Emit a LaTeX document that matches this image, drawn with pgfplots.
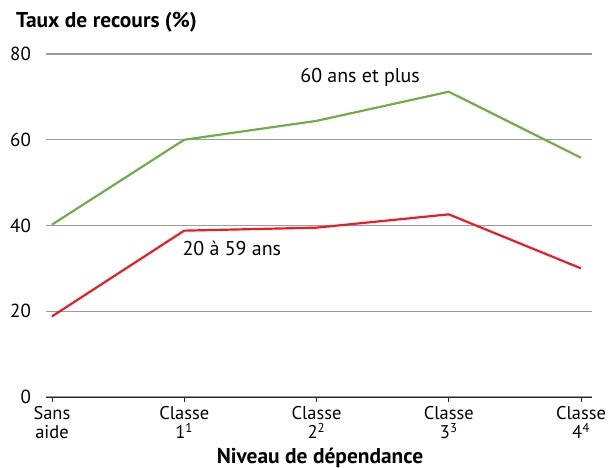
\documentclass[border=0pt]{standalone}
\usepackage{pgfplots}
\pgfplotsset{compat=1.18}
\usepackage{fontspec}
\setmainfont{PT Sans}
\definecolor{mygreen}{RGB}{112,173,71}
\definecolor{myred}{RGB}{237,28,36}
\definecolor{mygrid}{RGB}{155,155,155}
\begin{document}
\fontsize{18}{20}\selectfont
\begin{tikzpicture}
\begin{axis}[
  scale only axis, width=546bp, height=343bp,
  at={(0,0)}, anchor=south west,
  xmin=-0.045, xmax=4.083, ymin=0, ymax=80,
  axis x line*=bottom, axis y line*=left,
  y axis line style={draw=none},
  x axis line style={black!85, line width=0.9pt},
  ytick={0,20,40,60,80},
  ytick style={draw=none},
  ymajorgrids, grid style={mygrid, line width=1.3pt},
  xtick={0,1,2,3,4},
  xticklabels={{Sans\\aide},{Classe\\1\textsuperscript{1}},{Classe\\2\textsuperscript{2}},{Classe\\3\textsuperscript{3}},{Classe\\4\textsuperscript{4}}},
  xticklabel style={align=center, font=\fontsize{18.5}{19.5}\selectfont, yshift=2bp},
  yticklabel style={font=\fontsize{19}{20}\selectfont, xshift=-4bp},
  xtick style={black!85, line width=0.9pt},
  tick align=outside, major tick length=5bp,
  /pgf/number format/assume math mode=true,
  clip=false,
]
\addplot[mygreen, line width=2.2pt] coordinates {(0,40.2) (1,60.0) (2,64.4) (3,71.2) (4,55.8)};
\addplot[myred, line width=2.2pt] coordinates {(0,18.8) (1,38.8) (2,39.5) (3,42.6) (4,30.0)};
\node[font=\fontsize{20}{22}\selectfont] at (axis cs:2.33,74.5) {60 ans et plus};
\node[font=\fontsize{20}{22}\selectfont] at (axis cs:1.36,34.6) {20 à 59 ans};
\end{axis}
\node[anchor=west, font=\fontsize{21.5}{22}\selectfont\bfseries] at (-36bp,375bp) {Taux de recours (\%)};
\node[font=\fontsize{21.5}{22}\selectfont\bfseries] at (274bp,-61bp) {Niveau de dépendance};
\pgfresetboundingbox
\path (-46bp,-71bp) rectangle (563bp,397bp);
\end{tikzpicture}
\end{document}
